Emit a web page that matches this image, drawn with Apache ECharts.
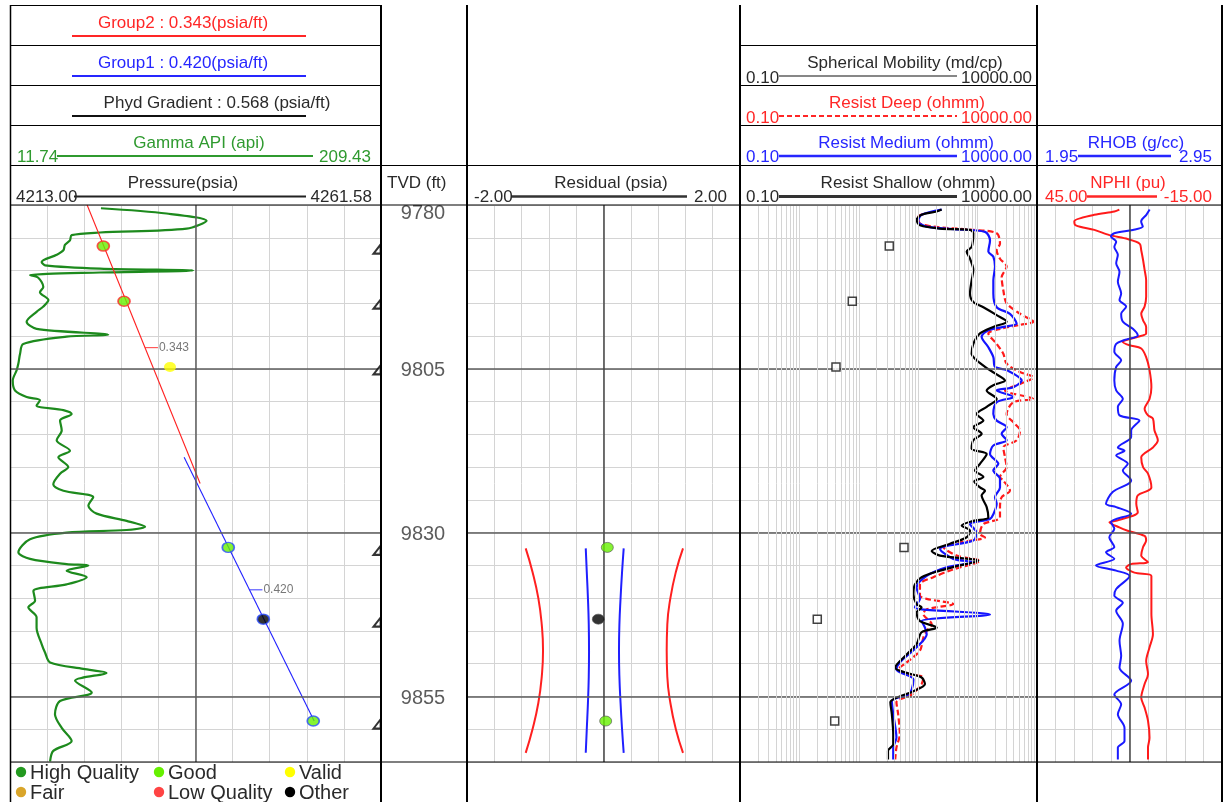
<!DOCTYPE html>
<html><head><meta charset="utf-8">
<script src="https://cdn.jsdelivr.net/npm/echarts/dist/echarts.min.js"></script>
<style>html,body{margin:0;padding:0;background:#fff}#c{width:1225px;height:802px}</style>
</head><body><div id="c"></div>
<script>
// ---------------- DATA ----------------
const depthRange = [9780, 9865];
const depthTicks = [9780, 9805, 9830, 9855];
const majorDepths = [9805, 9830, 9855];
const pressureRange = [4213.00, 4261.58];
const gammaRange = [11.74, 209.43];
const residualRange = [-2.00, 2.00];
const resistRange = [0.10, 10000.00];
const nphiRange = [45.00, -15.00];
const rhobRange = [1.95, 2.95];

// Pressure test points
const pointDepth = [9786.27, 9794.68, 9804.72, 9832.25, 9843.20, 9858.75];
const pointPressure = [4225.22, 4227.93, 4233.95, 4241.58, 4246.17, 4252.71];
const pointQuality = ['Good', 'Good', 'Valid', 'Good', 'Other', 'Good'];
const pointGroup = [2, 2, 0, 1, 1, 1];
const pointMobility = [32.6, 7.77, 4.13, 57.7, 2.00, 3.93];
// residuals (group 1 points)
const residualDepth = [9832.25, 9843.20, 9858.75];
const residualValue = [0.056, -0.076, 0.032];
const residualQuality = ['Good', 'Other', 'Good'];

// Gradient lines [depth, pressure]
const group2Line = [[9780.0, 4223.10], [9822.5, 4237.90]];
const group1Line = [[9818.5, 4235.80], [9858.75, 4252.83]];
const gradLabelText = ['0.343', '0.420'];
const gradLabelDepth = [9801.76, 9838.72];
const gradLabelPressure = [4230.67, 4244.35];

// Residual envelope curves
const envDepth = [9832.4, 9836, 9840, 9844, 9848, 9852, 9856, 9860, 9863.6];
const envRedLeft = [-1.14, -1.04, -0.955, -0.905, -0.886, -0.905, -0.955, -1.04, -1.14];
const envBlueLeft = [-0.26, -0.245, -0.228, -0.216, -0.212, -0.216, -0.228, -0.245, -0.26];
const envBlueRight = [0.296, 0.272, 0.25, 0.233, 0.227, 0.233, 0.25, 0.272, 0.296];
const envRedRight = [1.165, 1.06, 0.98, 0.935, 0.926, 0.935, 0.98, 1.06, 1.165];

// Gamma ray [depth, API]
const gamma = [[9780.5,60.2],[9781.3,95.2],[9782.4,116.5],[9783.6,105.9],[9784.2,59.7],[9784.6,44.6],[9785.4,43.7],[9786.1,41.0],[9786.9,40.2],[9787.6,36.6],[9788.7,28.6],[9789.2,30.4],[9789.7,59.7],[9790.0,109.4],[9790.3,59.7],[9790.7,22.4],[9791.1,26.8],[9792.5,29.5],[9793.3,27.7],[9794.5,32.2],[9795.5,29.5],[9796.3,25.9],[9797.8,20.6],[9798.9,25.9],[9799.8,64.1],[9800.1,41.9],[9801.2,18.8],[9802.7,17.1],[9804.2,16.2],[9805.2,15.3],[9806.8,13.2],[9808.3,14.4],[9809.3,20.6],[9809.8,27.7],[9810.6,25.9],[9811.3,40.2],[9811.9,44.6],[9812.9,38.4],[9814.4,39.3],[9815.9,36.6],[9817.5,43.7],[9818.5,37.5],[9820.0,42.8],[9821.0,38.4],[9822.6,34.8],[9823.6,40.2],[9824.6,56.1],[9825.9,53.5],[9827.1,57.9],[9828.2,73.9],[9829.1,83.7],[9829.6,73.9],[9830.0,41.9],[9831.0,22.4],[9833.0,16.2],[9834.0,22.4],[9834.8,41.9],[9835.0,53.5],[9835.8,41.9],[9836.8,52.6],[9837.9,41.9],[9838.9,24.2],[9840.4,25.1],[9841.4,21.5],[9842.9,25.9],[9844.5,25.9],[9847.0,28.6],[9848.3,30.4],[9849.8,33.1],[9850.8,50.8],[9851.4,63.2],[9852.6,46.4],[9854.4,55.3],[9855.7,38.4],[9857.7,35.7],[9859.8,39.3],[9861.8,44.6],[9863.3,34.8],[9864.9,33.1]];

// Resistivity [depth, ohmm]
const resShallow = [[9780.7,248],[9781.0,205],[9781.5,114],[9782.3,94],[9783.1,107],[9783.6,233],[9783.8,745],[9784.3,847],[9786.4,794],[9787.1,655],[9788.2,745],[9789.9,847],[9791.5,794],[9793.5,745],[9794.8,847],[9795.6,1250],[9796.8,2094],[9797.8,3083],[9798.6,1841],[9799.6,1096],[9801.2,847],[9802.7,794],[9803.7,964],[9804.7,1333],[9805.7,1963],[9806.8,2891],[9807.5,1841],[9808.3,1422],[9809.6,2094],[9810.8,1422],[9811.9,964],[9812.9,1250],[9813.9,847],[9814.9,1169],[9815.9,847],[9817.2,794],[9818.0,1422],[9819.5,1096],[9820.5,904],[9821.5,1250],[9822.2,880],[9823.1,1096],[9823.6,1333],[9824.3,1169],[9826.1,1422],[9827.7,1517],[9828.2,847],[9828.9,540],[9829.7,745],[9830.7,655],[9831.7,343],[9832.8,169],[9833.5,233],[9834.3,1028],[9835.1,445],[9835.8,233],[9836.8,114],[9837.9,88],[9839.4,83],[9840.9,94],[9841.4,114],[9842.2,94],[9843.5,107],[9844.5,205],[9845.2,114],[9847.0,94],[9848.6,64],[9850.6,41],[9851.4,64],[9852.1,114],[9853.1,130],[9854.2,83],[9855.2,43],[9855.9,34],[9857.7,36],[9860.8,38],[9862.3,38],[9863.3,31],[9864.6,31]];
const resMedium = [[9780.7,248],[9781.5,114],[9782.5,100],[9783.3,139],[9783.7,390],[9784.1,1333],[9785.4,1618],[9787.1,1517],[9787.9,1841],[9789.4,1963],[9791.5,1841],[9793.5,1841],[9795.6,2094],[9796.6,3508],[9798.1,4550],[9798.6,2710],[9799.1,1517],[9800.1,1169],[9801.7,1517],[9803.2,1841],[9804.7,1963],[9805.2,3083],[9806.8,5521],[9807.8,3999],[9808.3,2094],[9809.3,3999],[9810.1,2094],[9811.9,1841],[9812.9,2094],[9813.9,3083],[9814.9,2541],[9815.9,3083],[9816.7,1841],[9818.0,1618],[9819.5,2234],[9820.5,1841],[9821.8,2382],[9823.1,2382],[9824.6,1963],[9825.6,2094],[9827.2,1841],[9827.9,1618],[9828.7,745],[9830.0,964],[9831.2,847],[9832.5,233],[9834.0,390],[9834.5,847],[9835.3,301],[9836.6,139],[9838.4,94],[9840.1,107],[9841.4,88],[9841.7,114],[9842.5,1618],[9843.5,114],[9844.5,130],[9845.5,139],[9847.5,94],[9849.8,49],[9850.9,43],[9852.4,83],[9853.9,78],[9854.7,68],[9855.7,36],[9857.7,38],[9861.3,43],[9862.8,38],[9864.6,38]];
const resDeep = [[9781.4,122],[9781.8,100],[9782.8,107],[9783.3,180],[9783.8,847],[9784.3,2094],[9785.9,2382],[9786.9,2094],[9788.2,2382],[9789.4,3083],[9791.0,2541],[9793.0,2710],[9795.0,3083],[9796.6,5176],[9797.8,8670],[9798.3,5176],[9798.9,2382],[9799.6,1517],[9801.2,2094],[9802.7,2710],[9804.2,3083],[9805.5,5176],[9806.3,8670],[9807.3,5176],[9808.3,2891],[9809.6,8670],[9810.1,3999],[9811.9,3083],[9813.4,4266],[9814.4,5176],[9815.9,4550],[9817.0,2710],[9818.5,2891],[9820.0,3083],[9821.5,2382],[9822.05,2710],[9823.6,3508],[9824.6,2541],[9826.1,2382],[9827.7,2382],[9828.7,1250],[9830.2,1096],[9830.7,1333],[9831.5,506],[9832.2,265],[9833.5,445],[9834.3,1096],[9835.6,390],[9836.8,180],[9837.9,107],[9839.6,107],[9840.1,139],[9840.9,390],[9841.7,139],[9842.4,122],[9844.0,169],[9845.0,139],[9846.0,122],[9848.0,107],[9849.8,64],[9850.9,46],[9851.6,73],[9852.1,122],[9853.1,114],[9854.7,78],[9855.9,43],[9857.7,46],[9860.8,49],[9862.8,43],[9864.6,41]];

// NPHI [depth, pu] and RHOB [depth, g/cc]
const nphi = [[9780.7,18.3],[9781.0,19.9],[9781.5,26.4],[9782.5,32.9],[9783.1,32.4],[9783.8,26.4],[9784.6,21.5],[9785.2,15.6],[9785.9,11.7],[9786.9,11.2],[9788.4,10.6],[9789.9,10.1],[9791.5,9.6],[9794.0,9.6],[9795.5,10.1],[9796.6,11.2],[9797.6,10.6],[9798.6,9.6],[9799.6,9.6],[9800.1,12.3],[9800.9,17.2],[9801.4,15.0],[9801.9,11.2],[9803.2,9.6],[9805.2,8.5],[9807.8,7.9],[9809.6,8.5],[9811.1,10.1],[9812.1,9.0],[9812.6,7.4],[9814.4,6.9],[9815.9,5.8],[9817.0,7.4],[9818.5,11.2],[9820.0,10.6],[9821.0,9.0],[9823.1,7.9],[9823.6,9.0],[9824.3,12.3],[9825.6,12.8],[9826.9,12.3],[9828.2,19.4],[9828.4,21.5],[9829.2,18.3],[9829.7,15.6],[9830.5,10.1],[9831.2,9.6],[9832.2,10.6],[9833.5,11.2],[9834.5,9.0],[9834.8,14.5],[9835.3,16.1],[9836.1,13.4],[9836.6,7.9],[9838.4,7.9],[9842.4,7.9],[9845.5,7.4],[9847.5,8.5],[9849.6,9.6],[9851.6,9.0],[9853.1,10.1],[9855.2,11.2],[9856.7,10.1],[9858.7,9.0],[9861.3,8.5],[9862.8,9.0],[9864.6,9.0]];
const rhob = [[9780.7,2.559],[9781.5,2.541],[9782.5,2.513],[9783.3,2.522],[9783.8,2.468],[9784.3,2.368],[9784.8,2.350],[9785.6,2.378],[9786.4,2.368],[9787.6,2.387],[9788.9,2.378],[9790.2,2.396],[9791.7,2.387],[9793.5,2.405],[9794.5,2.396],[9795.5,2.432],[9796.6,2.405],[9797.8,2.414],[9798.9,2.468],[9799.9,2.495],[9800.6,2.423],[9801.2,2.378],[9802.4,2.368],[9803.7,2.405],[9804.7,2.378],[9806.8,2.368],[9808.3,2.378],[9809.6,2.414],[9810.8,2.387],[9812.1,2.396],[9812.9,2.504],[9814.4,2.459],[9815.4,2.459],[9817.0,2.387],[9817.5,2.423],[9818.2,2.378],[9819.5,2.441],[9820.5,2.414],[9822.05,2.459],[9822.6,2.441],[9823.8,2.359],[9825.6,2.323],[9826.1,2.378],[9827.1,2.459],[9828.4,2.350],[9829.4,2.368],[9830.7,2.341],[9832.2,2.368],[9833.0,2.323],[9834.0,2.368],[9835.0,2.269],[9835.8,2.378],[9836.6,2.450],[9838.6,2.378],[9839.6,2.368],[9840.7,2.414],[9841.9,2.378],[9843.9,2.414],[9846.5,2.396],[9848.8,2.405],[9850.6,2.396],[9852.6,2.459],[9854.7,2.368],[9856.2,2.405],[9857.7,2.387],[9859.8,2.423],[9861.8,2.423],[9862.8,2.387],[9864.6,2.387]];

// Legend
const legendNames = ['High Quality', 'Good', 'Valid', 'Fair', 'Low Quality', 'Other'];
const legendColors = ['#23991f', '#66f000', '#ffff00', '#d9a52a', '#ff4444', '#000000'];

// ---------------- CHART ----------------
const FONT = '"Liberation Sans", Arial, Helvetica, sans-serif';
const RED = '#ff2626', BLUE = '#2626ff', GREEN = '#2f9a2f', DARK = '#2a2a2a';
const GRIDC = '#d4d4d4', MAJORC = '#5c5c5c';
const HF = 17; // header font size
const qualityColor = q => legendColors[legendNames.indexOf(q)];
const groupBorder = {2: '#ff2a2a', 1: '#2a4cff', 0: 'rgba(0,0,0,0)'};
const sw = arr => arr.map(([d, v]) => [v, d]);

const grids = [
  {left: 10, top: 205, width: 371, height: 557},
  {left: 381, top: 205, width: 86, height: 557},
  {left: 467, top: 205, width: 273, height: 557},
  {left: 740, top: 205, width: 297, height: 557},
  {left: 1037, top: 205, width: 185, height: 557}
];
function helperAxis(g) {
  return {gridIndex: g, type: 'value', min: 0, max: 10, interval: 1,
    axisLine: {show: false}, axisTick: {show: false}, axisLabel: {show: false},
    splitLine: {show: true, lineStyle: {color: GRIDC, width: 1}}};
}
function hiddenAxis(g, min, max, extra) {
  return Object.assign({gridIndex: g, type: 'value', min, max, show: false, splitLine: {show: false}}, extra || {});
}
const xAxis = [
  helperAxis(0),                                             // 0
  hiddenAxis(0, pressureRange[0], pressureRange[1]),          // 1
  hiddenAxis(0, gammaRange[0], gammaRange[1]),                // 2
  hiddenAxis(1, 0, 1),                                       // 3
  helperAxis(2),                                             // 4
  hiddenAxis(2, residualRange[0], residualRange[1]),          // 5
  {gridIndex: 3, type: 'log', logBase: 10, min: resistRange[0], max: resistRange[1], show: false, splitLine: {show: false}}, // 6
  helperAxis(4),                                             // 7
  hiddenAxis(4, nphiRange[1], nphiRange[0], {inverse: true}), // 8
  hiddenAxis(4, rhobRange[0], rhobRange[1])                   // 9
];
const yAxis = grids.map((g, i) => ({
  gridIndex: i, type: 'value', inverse: true, min: depthRange[0], max: depthRange[1], interval: 5,
  axisLine: {show: false}, axisTick: {show: false}, axisLabel: {show: false},
  splitLine: {show: i !== 1, lineStyle: {color: GRIDC, width: 1}}
}));

function marks(xi, yi, extra) {
  const data = majorDepths.map(d => ({yAxis: d, lineStyle: {color: MAJORC, width: 1.5}})).concat(extra || []);
  return {type: 'line', xAxisIndex: xi, yAxisIndex: yi, data: [], z: 1, silent: true,
    markLine: {silent: true, symbol: 'none', animation: false, label: {show: false},
      lineStyle: {type: 'solid', color: GRIDC, width: 1}, data}};
}
// log grid lines for resistivity
const logLines = [];
[0.1, 1, 10, 100, 1000].forEach(dec => {
  for (let k = (dec === 0.1 ? 2 : 1); k <= 9; k++) logLines.push({xAxis: +(dec * k).toPrecision(3)});
});

function lineSeries(name, xi, yi, data, color, width, extra) {
  return Object.assign({name, type: 'line', xAxisIndex: xi, yAxisIndex: yi, data, showSymbol: false,
    smooth: 0.3, z: 3, lineStyle: {color, width}, silent: true}, extra || {});
}

const series = [
  marks(0, 0, [{xAxis: 5, lineStyle: {color: MAJORC, width: 1.5}}]),
  marks(4, 2, [{xAxis: 5, lineStyle: {color: '#444', width: 1.5}}]),
  marks(6, 3, logLines),
  marks(7, 4, [{xAxis: 5, lineStyle: {color: '#444', width: 1.5}}]),
  // gamma
  lineSeries('Gamma API', 2, 0, sw(gamma), '#1d8a1d', 2.2),
  // gradient lines
  lineSeries('Group2', 1, 0, sw(group2Line), '#ff2020', 1.1, {smooth: false, z: 4}),
  lineSeries('Group1', 1, 0, sw(group1Line), '#2020ff', 1.1, {smooth: false, z: 4}),
  // gradient labels
  {type: 'scatter', xAxisIndex: 1, yAxisIndex: 0, z: 4, silent: true,
    symbol: 'rect', symbolSize: [13, 1.2], symbolOffset: [6.5, 0],
    data: gradLabelText.map((t, i) => ({value: [gradLabelPressure[i], gradLabelDepth[i]], name: t,
      itemStyle: {color: i === 0 ? '#ff3030' : '#3030ff'}})),
    label: {show: true, position: 'right', distance: 1, formatter: p => p.name,
      fontSize: 12, color: '#555', fontFamily: FONT}},
  // pressure points
  {type: 'scatter', xAxisIndex: 1, yAxisIndex: 0, z: 6, silent: true, symbolSize: [12, 10],
    data: pointDepth.map((d, i) => ({value: [pointPressure[i], d],
      itemStyle: {color: qualityColor(pointQuality[i]), borderColor: groupBorder[pointGroup[i]],
        borderWidth: pointGroup[i] ? 1.6 : 0}}))},
  // depth markers at right edge of pressure track
  {type: 'scatter', xAxisIndex: 1, yAxisIndex: 0, z: 6, silent: true,
    symbol: 'path://M10,0 L10,10 L0,10 Z', symbolSize: [7, 9], symbolOffset: [-4, 3],
    itemStyle: {color: '#fff', borderColor: '#000', borderWidth: 2},
    data: pointDepth.map(d => [pressureRange[1], d])},
  // TVD labels
  {type: 'scatter', xAxisIndex: 3, yAxisIndex: 1, z: 6, silent: true, symbolSize: 1,
    itemStyle: {color: 'rgba(0,0,0,0)'},
    data: depthTicks.map((d, i) => ({value: [0.5, d], label: {offset: [-1, i === 0 ? 8 : 2]}})),
    label: {show: true, position: 'inside', formatter: p => String(p.value[1]),
      fontSize: 20, color: '#333', fontFamily: FONT}},
  // residual envelopes
  lineSeries('envRL', 5, 2, envDepth.map((d, i) => [envRedLeft[i], d]), '#ff2020', 2, {smooth: true}),
  lineSeries('envBL', 5, 2, envDepth.map((d, i) => [envBlueLeft[i], d]), '#2020ff', 2, {smooth: true}),
  lineSeries('envBR', 5, 2, envDepth.map((d, i) => [envBlueRight[i], d]), '#2020ff', 2, {smooth: true}),
  lineSeries('envRR', 5, 2, envDepth.map((d, i) => [envRedRight[i], d]), '#ff2020', 2, {smooth: true}),
  // residual points
  {type: 'scatter', xAxisIndex: 5, yAxisIndex: 2, z: 6, silent: true, symbolSize: [12, 10],
    data: residualDepth.map((d, i) => ({value: [residualValue[i], d],
      itemStyle: {color: qualityColor(residualQuality[i]), borderColor: '#555', borderWidth: 0.8}}))},
  // resistivity
  lineSeries('Resist Deep', 6, 3, sw(resDeep), '#ff1a1a', 2.2, {lineStyle: {color: '#ff1a1a', width: 2.2, type: [6, 3]}}),
  lineSeries('Resist Medium', 6, 3, sw(resMedium), '#1414ff', 2.2),
  lineSeries('Resist Shallow', 6, 3, sw(resShallow), '#000', 2.2),
  // mobility squares
  {type: 'scatter', xAxisIndex: 6, yAxisIndex: 3, z: 6, silent: true, symbol: 'rect', symbolSize: 8,
    itemStyle: {color: '#fff', borderColor: '#111', borderWidth: 1.5},
    data: pointDepth.map((d, i) => [pointMobility[i], d])},
  // NPHI / RHOB
  lineSeries('NPHI', 8, 4, sw(nphi), '#ff1a1a', 2),
  lineSeries('RHOB', 9, 4, sw(rhob), '#1a1aff', 2)
];

// ---------------- GRAPHIC (frame + headers + legend) ----------------
function txt(x, y, s, color, align, size) {
  align = align || 'center';
  return {type: 'text', x, y, z: 100, silent: true,
    style: {text: s, fill: color, font: (size || HF) + 'px ' + FONT,
      textAlign: align, align: align, textVerticalAlign: 'middle', verticalAlign: 'middle'}};
}
function ln(x1, y1, x2, y2, color, w, dash) {
  return {type: 'line', z: 99, silent: true, shape: {x1, y1, x2, y2},
    style: {stroke: color || '#000', lineWidth: w || 1, lineDash: dash || null}};
}
const G = [];
// horizontal frame lines
G.push(ln(10, 5.5, 381, 5.5));
[45.5, 85.5].forEach(y => { G.push(ln(10, y, 381, y)); G.push(ln(740, y, 1037, y)); });
G.push(ln(10, 125.5, 381, 125.5)); G.push(ln(740, 125.5, 1222, 125.5));
G.push(ln(10, 165.5, 1222, 165.5));
G.push(ln(10, 205, 1222, 205, '#000', 1.2));
G.push(ln(10, 762, 1222, 762, '#000', 1.2));
// vertical frame lines
G.push(ln(10.5, 5, 10.5, 802, '#000', 1.5));
[381, 467, 740, 1037, 1222].forEach(x => G.push(ln(x, 5, x, 802, '#000', 2)));
// pressure track headers
G.push(txt(183, 23, 'Group2 : 0.343(psia/ft)', RED));
G.push(ln(72, 36, 306, 36, RED, 2));
G.push(txt(183, 63, 'Group1 : 0.420(psia/ft)', BLUE));
G.push(ln(72, 76, 306, 76, BLUE, 2));
G.push(txt(217, 103, 'Phyd Gradient : 0.568 (psia/ft)', DARK));
G.push(ln(72, 116, 306, 116, '#111', 2));
G.push(txt(199, 143, 'Gamma API (api)', GREEN));
G.push(txt(17, 157, '11.74', GREEN, 'left'));
G.push(ln(57, 156, 313, 156, GREEN, 2));
G.push(txt(371, 157, '209.43', GREEN, 'right'));
G.push(txt(183, 183, 'Pressure(psia)', DARK));
G.push(txt(16, 197, '4213.00', DARK, 'left'));
G.push(ln(74, 196.5, 306, 196.5, '#222', 2));
G.push(txt(372, 197, '4261.58', DARK, 'right'));
// TVD
G.push(txt(387, 183, 'TVD (ft)', DARK, 'left'));
// residual
G.push(txt(611, 183, 'Residual (psia)', DARK));
G.push(txt(474, 197, '-2.00', DARK, 'left'));
G.push(ln(511, 196.5, 687, 196.5, '#333', 2.5));
G.push(txt(727, 197, '2.00', DARK, 'right'));
// resistivity
G.push(txt(905, 63, 'Spherical Mobility (md/cp)', DARK));
G.push(txt(746, 78, '0.10', DARK, 'left'));
G.push(ln(779, 76, 957, 76, '#111', 1.2));
G.push(txt(1032, 78, '10000.00', DARK, 'right'));
G.push(txt(907, 103, 'Resist Deep (ohmm)', RED));
G.push(txt(746, 118, '0.10', RED, 'left'));
G.push(ln(779, 116, 957, 116, RED, 2, [5, 3]));
G.push(txt(1032, 118, '10000.00', RED, 'right'));
G.push(txt(906, 143, 'Resist Medium (ohmm)', BLUE));
G.push(txt(746, 157, '0.10', BLUE, 'left'));
G.push(ln(779, 156, 957, 156, BLUE, 2.5));
G.push(txt(1032, 157, '10000.00', BLUE, 'right'));
G.push(txt(908, 183, 'Resist Shallow (ohmm)', DARK));
G.push(txt(746, 197, '0.10', DARK, 'left'));
G.push(ln(779, 196.5, 957, 196.5, '#333', 3));
G.push(txt(1032, 197, '10000.00', DARK, 'right'));
// NPHI / RHOB
G.push(txt(1136, 143, 'RHOB (g/cc)', BLUE));
G.push(txt(1045, 157, '1.95', BLUE, 'left'));
G.push(ln(1078, 156, 1171, 156, BLUE, 2.5));
G.push(txt(1212, 157, '2.95', BLUE, 'right'));
G.push(txt(1128, 183, 'NPHI (pu)', RED));
G.push(txt(1045, 197, '45.00', RED, 'left'));
G.push(ln(1087, 196.5, 1157, 196.5, RED, 2.5));
G.push(txt(1212, 197, '-15.00', RED, 'right'));
// legend
const legCols = [21, 159, 290], legRows = [772, 792];
legendNames.forEach((n, i) => {
  const cx = legCols[i % 3], cy = legRows[Math.floor(i / 3)];
  G.push({type: 'circle', z: 100, silent: true, shape: {cx, cy, r: 5.2}, style: {fill: legendColors[i]}});
  G.push(txt(cx + 9, cy + 1, n, DARK, 'left', 20));
});

const chart = echarts.init(document.getElementById('c'), null, {renderer: 'canvas'});
chart.setOption({
  animation: false,
  backgroundColor: '#fff',
  grid: grids,
  xAxis, yAxis, series,
  graphic: {elements: G}
});
</script>
</body></html>
